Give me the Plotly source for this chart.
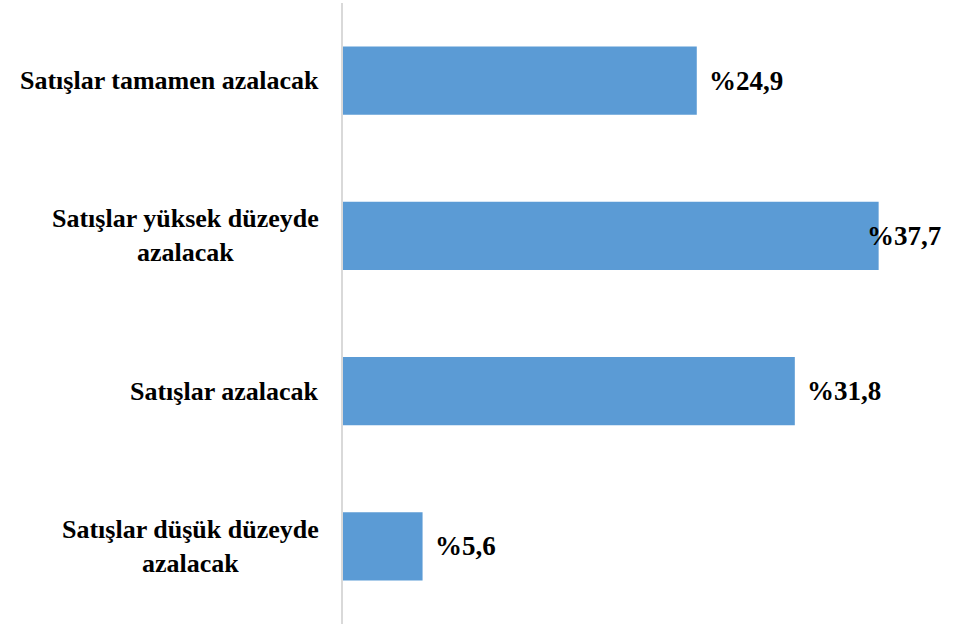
import plotly.graph_objects as go

# categories listed bottom -> top (plotly draws first category at the bottom)
categories = [
    "Satışlar düşük düzeyde<br>azalacak",
    "Satışlar azalacak",
    "Satışlar yüksek düzeyde<br>azalacak",
    "Satışlar tamamen azalacak",
]
values = [5.6, 31.8, 37.7, 24.9]
value_labels = ["%5,6", "%31,8", "%37,7", "%24,9"]

BAR_COLOR = "#5B9BD5"
FONT = "'Liberation Serif', 'Times New Roman', 'DejaVu Serif', serif"
label_shift = [10, 10, -14, 10]  # largest label was pulled back over the bar end

fig = go.Figure()
fig.add_trace(go.Bar(
    x=values, y=categories, orientation="h",
    marker=dict(color=BAR_COLOR, line=dict(width=0)),
    hoverinfo="skip",
))

# value labels
for v, c, t, s in zip(values, categories, value_labels, label_shift):
    fig.add_annotation(x=v, y=c, text=f"<b>{t}</b>", showarrow=False,
                       xanchor="left", xshift=s, yanchor="middle",
                       font=dict(family=FONT, size=27, color="#000"))

# category labels (centered multi-line, like the original)
for c in categories:
    fig.add_annotation(x=0, xref="paper", y=c, text=f"<b>{c}</b>", showarrow=False,
                       xanchor="right", xshift=-22, yanchor="middle", align="center",
                       font=dict(family=FONT, size=26, color="#000"))

fig.update_xaxes(range=[0, 44.2], visible=False)
fig.update_yaxes(showticklabels=False, ticks="", showline=True,
                 linecolor="#d9d9d9", linewidth=2, range=[-0.5, 3.5], showgrid=False)
fig.update_layout(
    width=971, height=626, bargap=0.56,
    margin=dict(l=343, r=0, t=3, b=2),
    plot_bgcolor="white", paper_bgcolor="white",
    showlegend=False,
    font=dict(family=FONT),
)
# drop the default 8px body margin so the figure fills the window exactly
fig.write_html("out.html", config={"displayModeBar": False},
               post_script="document.body.style.margin='0';")
